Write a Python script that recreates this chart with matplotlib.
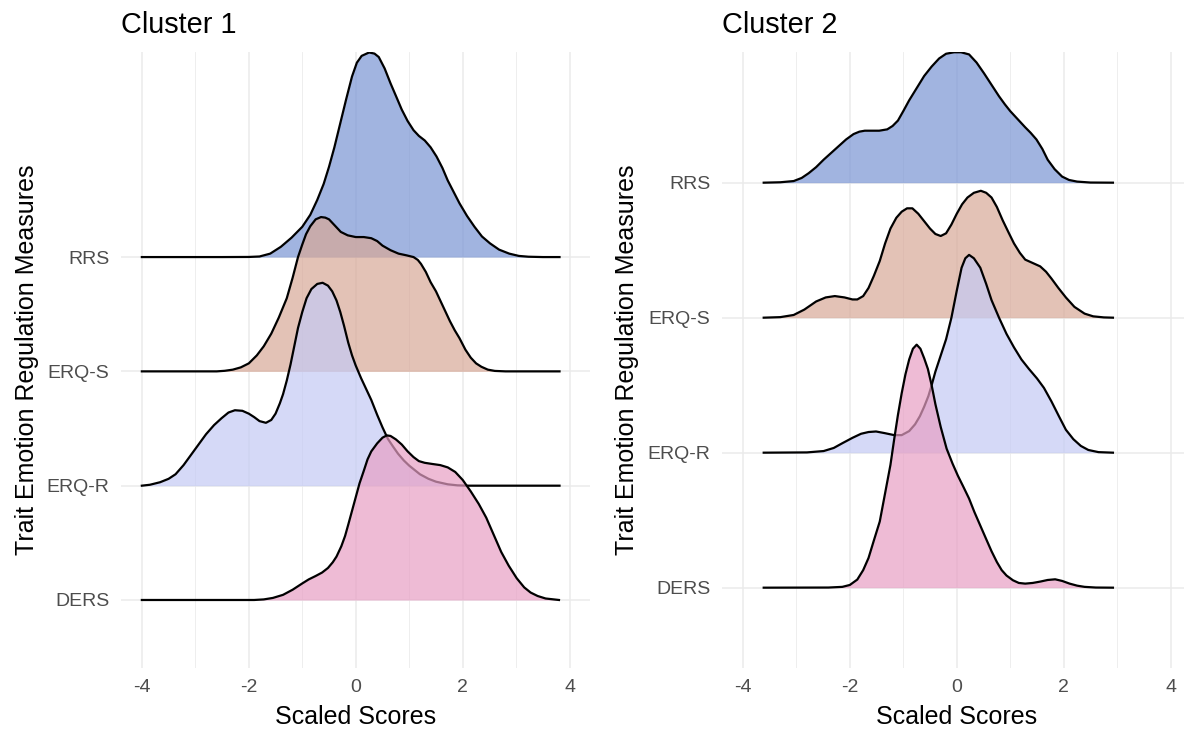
import matplotlib
matplotlib.use("Agg")
import matplotlib.pyplot as plt

plt.rcParams['font.family'] = ['Liberation Sans', 'DejaVu Sans']
plt.rcParams['axes.unicode_minus'] = False

# categories, bottom to top
measures = ["DERS", "ERQ-R", "ERQ-S", "RRS"]
fills = {"RRS": "#7995d4", "ERQ-S": "#d8a897", "ERQ-R": "#c4caf4", "DERS": "#e79fc4"}

# ---- Cluster 1: density heights (in ridge units) ----
c1_rrs_x = [-4.0, -2.5, -2.0, -1.8, -1.6, -1.4, -1.2, -1.0, -0.85, -0.72, -0.6, -0.5, -0.4, -0.29,
            -0.18, -0.07, 0.02, 0.11, 0.25, 0.35, 0.43, 0.54, 0.65, 0.76, 0.86, 0.97, 1.08, 1.18,
            1.29, 1.4, 1.51, 1.62, 1.72, 1.83, 1.94, 2.08, 2.22, 2.36, 2.51, 2.68, 2.87, 3.05,
            3.23, 3.5, 3.81]
c1_rrs_h = [0, 0, 0.001, 0.005, 0.03, 0.09, 0.17, 0.265, 0.37, 0.5, 0.64, 0.79, 0.96, 1.17,
            1.38, 1.58, 1.7, 1.76, 1.79, 1.78, 1.75, 1.65, 1.52, 1.4, 1.29, 1.19, 1.11, 1.06,
            1.02, 0.96, 0.88, 0.78, 0.67, 0.57, 0.47, 0.36, 0.265, 0.18, 0.12, 0.065, 0.03, 0.01,
            0.003, 0, 0]

c1_erqs_x = [-4.0, -2.6, -2.45, -2.3, -2.15, -2.0, -1.85, -1.72, -1.58, -1.44, -1.29, -1.18, -1.08,
             -1.0, -0.93, -0.85, -0.75, -0.65, -0.57, -0.5, -0.4, -0.28, -0.15, 0.0, 0.15, 0.29,
             0.4, 0.5, 0.65, 0.8, 0.95, 1.08, 1.16, 1.22, 1.31, 1.4, 1.5, 1.58, 1.67, 1.76, 1.85,
             1.94, 2.05, 2.15, 2.25, 2.35, 2.47, 2.6, 2.8, 3.81]
c1_erqs_h = [0, 0, 0.005, 0.015, 0.035, 0.07, 0.14, 0.22, 0.33, 0.47, 0.64, 0.82, 1.0,
             1.11, 1.2, 1.27, 1.33, 1.35, 1.345, 1.33, 1.28, 1.22, 1.19, 1.175, 1.175, 1.165,
             1.14, 1.1, 1.06, 1.03, 1.015, 1.0, 0.975, 0.94, 0.87, 0.78, 0.7, 0.62, 0.53, 0.44, 0.36,
             0.29, 0.19, 0.12, 0.07, 0.04, 0.015, 0.004, 0, 0]

c1_erqr_x = [-4.0, -3.85, -3.66, -3.5, -3.37, -3.22, -3.08, -2.94, -2.8, -2.65, -2.51, -2.38, -2.26,
             -2.12, -2.0, -1.9, -1.8, -1.68, -1.58, -1.5, -1.42, -1.36, -1.29, -1.22, -1.15, -1.08,
             -1.0, -0.92, -0.83, -0.72, -0.62, -0.52, -0.44, -0.36, -0.29, -0.22, -0.14, -0.07,
             0.0, 0.1, 0.2, 0.29, 0.4, 0.5, 0.6, 0.7, 0.79, 0.9, 1.0, 1.08, 1.2, 1.36, 1.5, 1.72,
             1.9, 2.1, 3.81]
c1_erqr_h = [0, 0.008, 0.03, 0.06, 0.1, 0.18, 0.27, 0.36, 0.45, 0.53, 0.59, 0.64, 0.66,
             0.655, 0.63, 0.6, 0.565, 0.55, 0.575, 0.63, 0.72, 0.8, 0.92, 1.06, 1.22, 1.38,
             1.52, 1.64, 1.72, 1.765, 1.775, 1.75, 1.7, 1.62, 1.52, 1.4, 1.25, 1.14,
             1.05, 0.94, 0.84, 0.75, 0.62, 0.51, 0.41, 0.34, 0.28, 0.22, 0.175, 0.145, 0.1, 0.06,
             0.035, 0.012, 0.003, 0, 0]

c1_ders_x = [-4.0, -1.9, -1.72, -1.55, -1.36, -1.18, -1.0, -0.88, -0.75, -0.63, -0.52, -0.43, -0.36,
             -0.27, -0.2, -0.14, -0.07, 0.0, 0.07, 0.15, 0.22, 0.29, 0.4, 0.5, 0.58, 0.65, 0.75,
             0.86, 0.97, 1.08, 1.18, 1.29, 1.43, 1.58, 1.72, 1.86, 2.0, 2.15, 2.3, 2.44, 2.58,
             2.72, 2.86, 3.01, 3.15, 3.27, 3.4, 3.55, 3.8]
c1_ders_h = [0, 0, 0.005, 0.018, 0.045, 0.09, 0.145, 0.18, 0.21, 0.24, 0.28, 0.33, 0.38,
             0.47, 0.56, 0.66, 0.78, 0.9, 1.02, 1.13, 1.23, 1.3, 1.37, 1.42, 1.44, 1.435, 1.405,
             1.36, 1.3, 1.25, 1.215, 1.2, 1.19, 1.18, 1.16, 1.12, 1.05, 0.95, 0.84, 0.72, 0.57,
             0.42, 0.3, 0.19, 0.11, 0.065, 0.035, 0.013, 0]

# ---- Cluster 2 ----
c2_rrs_x = [-3.61, -3.3, -3.05, -2.9, -2.77, -2.63, -2.49, -2.35, -2.21, -2.07, -1.93, -1.82, -1.72,
            -1.6, -1.45, -1.3, -1.2, -1.1, -1.0, -0.89, -0.75, -0.61, -0.47, -0.33, -0.2, -0.05,
            0.08, 0.23, 0.37, 0.51, 0.65, 0.79, 0.9, 1.0, 1.14, 1.28, 1.38, 1.49, 1.6, 1.7, 1.83,
            1.97, 2.1, 2.25, 2.5, 2.92]
c2_rrs_h = [0, 0.003, 0.012, 0.035, 0.07, 0.115, 0.17, 0.22, 0.27, 0.32, 0.36, 0.378, 0.385,
            0.385, 0.385, 0.395, 0.42, 0.46, 0.53, 0.61, 0.7, 0.79, 0.86, 0.92, 0.955, 0.966,
            0.966, 0.95, 0.89, 0.81, 0.725, 0.64, 0.58, 0.53, 0.47, 0.41, 0.37, 0.32, 0.25, 0.17, 0.1,
            0.045, 0.02, 0.008, 0.001, 0]

c2_erqs_x = [-3.61, -3.3, -3.05, -2.85, -2.63, -2.45, -2.28, -2.1, -1.95, -1.86, -1.75, -1.65, -1.55,
             -1.44, -1.34, -1.24, -1.13, -1.03, -0.93, -0.83, -0.72, -0.61, -0.5, -0.4, -0.3, -0.2,
             -0.1, 0.0, 0.1, 0.2, 0.32, 0.45, 0.55, 0.65, 0.75, 0.86, 0.97, 1.07, 1.18, 1.28, 1.42,
             1.56, 1.67, 1.77, 1.9, 2.04, 2.2, 2.39, 2.55, 2.75, 2.92]
c2_erqs_h = [0, 0.004, 0.02, 0.06, 0.12, 0.15, 0.16, 0.15, 0.135, 0.135, 0.16, 0.22, 0.31,
             0.42, 0.55, 0.66, 0.74, 0.785, 0.81, 0.81, 0.77, 0.715, 0.66, 0.62, 0.605, 0.625,
             0.69, 0.77, 0.84, 0.89, 0.925, 0.94, 0.925, 0.89, 0.82, 0.72, 0.63, 0.55, 0.48, 0.43, 0.405,
             0.38, 0.34, 0.29, 0.22, 0.15, 0.08, 0.03, 0.01, 0.002, 0]

c2_erqr_x = [-3.61, -2.8, -2.49, -2.3, -2.14, -1.95, -1.79, -1.65, -1.51, -1.35, -1.17, -1.03, -0.89,
             -0.78, -0.69, -0.61, -0.53, -0.47, -0.4, -0.3, -0.2, -0.1, 0.0, 0.09, 0.16, 0.23, 0.32,
             0.44, 0.55, 0.65, 0.79, 0.93, 1.07, 1.21, 1.35, 1.5, 1.63, 1.77, 1.91, 2.04, 2.18,
             2.32, 2.46, 2.65, 2.92]
c2_erqr_h = [0, 0.002, 0.012, 0.035, 0.07, 0.11, 0.14, 0.153, 0.157, 0.145, 0.13, 0.13, 0.16,
             0.21, 0.27, 0.34, 0.42, 0.5, 0.6, 0.72, 0.84, 1.0, 1.2, 1.37, 1.44, 1.465, 1.44,
             1.37, 1.25, 1.13, 1.0, 0.88, 0.78, 0.69, 0.62, 0.55, 0.48, 0.38, 0.27, 0.17, 0.1,
             0.05, 0.02, 0.004, 0]

c2_ders_x = [-3.61, -2.4, -2.14, -2.0, -1.86, -1.75, -1.65, -1.55, -1.44, -1.34, -1.24, -1.17, -1.1,
             -1.03, -0.96, -0.89, -0.82, -0.75, -0.68, -0.61, -0.54, -0.47, -0.4, -0.3, -0.19,
             -0.08, 0.02, 0.12, 0.23, 0.33, 0.44, 0.55, 0.65, 0.75, 0.84, 0.93, 1.05, 1.16, 1.28,
             1.42, 1.56, 1.7, 1.84, 1.97, 2.11, 2.25, 2.39, 2.6, 2.92]
c2_ders_h = [0, 0.001, 0.006, 0.02, 0.06, 0.13, 0.22, 0.35, 0.49, 0.7, 0.91, 1.1, 1.28,
             1.44, 1.58, 1.69, 1.77, 1.8, 1.77, 1.7, 1.62, 1.5, 1.36, 1.19, 1.03,
             0.92, 0.83, 0.75, 0.66, 0.56, 0.46, 0.36, 0.27, 0.19, 0.13, 0.09, 0.055, 0.035, 0.03,
             0.035, 0.045, 0.057, 0.062, 0.05, 0.03, 0.015, 0.006, 0.001, 0]

cluster1 = {"RRS": (c1_rrs_x, c1_rrs_h), "ERQ-S": (c1_erqs_x, c1_erqs_h),
            "ERQ-R": (c1_erqr_x, c1_erqr_h), "DERS": (c1_ders_x, c1_ders_h)}
cluster2 = {"RRS": (c2_rrs_x, c2_rrs_h), "ERQ-S": (c2_erqs_x, c2_erqs_h),
            "ERQ-R": (c2_erqr_x, c2_erqr_h), "DERS": (c2_ders_x, c2_ders_h)}

grey_grid = "#ebebeb"
grey_text = "#4d4d4d"


def ridges(ax, data, ytop):
    # top ridge first, so lower ridges are painted over it (ggridges order)
    for i, name in enumerate(reversed(measures)):
        base = measures.index(name) + 1
        xs, hs = data[name]
        ys = [base + h for h in hs]
        z = 2 + i
        ax.fill_between(xs, base, ys, color=fills[name], alpha=0.7, lw=0, zorder=z)
        ax.plot(xs, ys, color="black", lw=1.6, zorder=z + 0.5, solid_joinstyle="round")

    ax.set_xlim(-4.39, 4.38)
    ax.set_ylim(0.405, ytop)
    ax.set_xticks([-4, -2, 0, 2, 4])
    ax.set_xticks([-3, -1, 1, 3], minor=True)
    ax.set_yticks(range(1, len(measures) + 1))
    ax.set_yticklabels(measures)
    ax.grid(True, which="major", color=grey_grid, lw=1.1, zorder=0)
    ax.grid(True, which="minor", axis="x", color=grey_grid, lw=0.6, zorder=0)
    ax.set_axisbelow(True)
    for s in ax.spines.values():
        s.set_visible(False)
    ax.tick_params(which="both", length=0)
    ax.tick_params(axis="x", pad=8, labelsize=14, labelcolor=grey_text)
    ax.tick_params(axis="y", pad=8.5, labelsize=14, labelcolor=grey_text)


fig = plt.figure(figsize=(11.84, 7.3), dpi=100)
W, H = 1184.0, 730.0
ax1 = fig.add_axes([121 / W, 62 / H, 469 / W, 616 / H])
ax2 = fig.add_axes([722 / W, 62 / H, 469 / W, 616 / H])

ridges(ax1, cluster1, 5.794)
ridges(ax2, cluster2, 4.968)

fig.text(121 / W, 1 - 33 / H, "Cluster 1", fontsize=20.8, va="baseline", ha="left")
fig.text(722 / W, 1 - 33 / H, "Cluster 2", fontsize=20.8, va="baseline", ha="left")
for cx in (355.5, 956.5):
    fig.text(cx / W, 1 - 724 / H, "Scaled Scores", fontsize=18, va="baseline", ha="center")
for lx in (27, 627):
    fig.text(lx / W, 1 - 360 / H, "Trait Emotion Regulation Measures",
             fontsize=18, rotation=90, va="center", ha="center")

fig.savefig("out.png", dpi=100)
